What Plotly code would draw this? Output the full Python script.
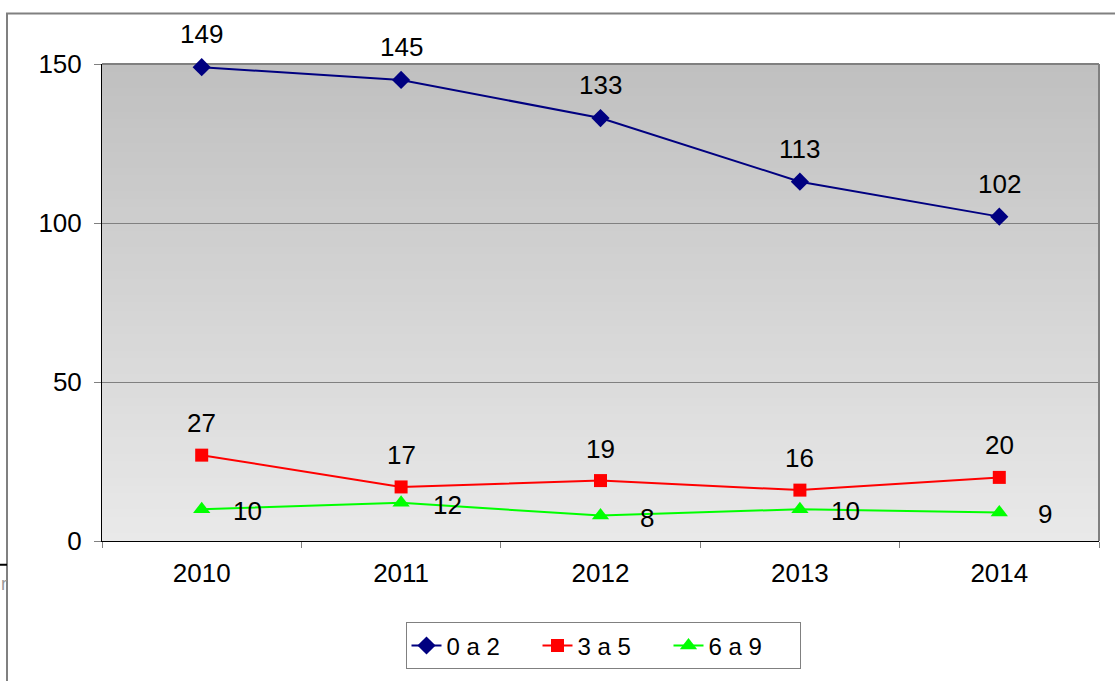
import plotly.graph_objects as go

years = ["2010", "2011", "2012", "2013", "2014"]
s_0a2 = [149, 145, 133, 113, 102]
s_3a5 = [27, 17, 19, 16, 20]
s_6a9 = [10, 12, 8, 10, 9]
y_ticks = [0, 50, 100, 150]

FONT = "Liberation Sans, Arial, sans-serif"
FS = 26

fig = go.Figure()

series = [
    ("0 a 2", s_0a2, "#000080", "diamond", 14),
    ("3 a 5", s_3a5, "#FF0000", "square", 13),
    ("6 a 9", s_6a9, "#00FF00", "triangle-up", 15),
]
for name, vals, col, sym, size in series:
    fig.add_trace(go.Scatter(
        x=years, y=vals, name=name, mode="lines+markers",
        line=dict(color=col, width=2),
        marker=dict(symbol=sym, size=size, color=col),
        cliponaxis=False,
    ))

annotations = []
for vals, xs, ys in [(s_0a2, 0, 33), (s_3a5, 0, 32), (s_6a9, 46, -2)]:
    for i, v in enumerate(vals):
        annotations.append(dict(
            x=i, y=v, text=str(v), showarrow=False, xref="x", yref="y",
            xshift=xs, yshift=ys, xanchor="center", yanchor="middle",
            font=dict(family=FONT, size=FS, color="black"),
        ))

# gradient background strips
shapes = []
N = 60
top = (192, 192, 192)
bot = (233, 233, 233)
for i in range(N):
    t = i / (N - 1)
    c = tuple(round(top[k] + (bot[k] - top[k]) * t) for k in range(3))
    shapes.append(dict(
        type="rect", xref="x domain", yref="y domain",
        x0=0, x1=1, y0=max(0, 1 - (i + 1.6) / N), y1=1 - i / N,
        fillcolor="rgb(%d,%d,%d)" % c, line=dict(width=0), layer="below",
    ))
# plot border top/right
shapes.append(dict(type="line", xref="x domain", yref="y domain", x0=0, x1=1, y0=1, y1=1,
                   line=dict(color="#808080", width=2), layer="below"))
shapes.append(dict(type="line", xref="x domain", yref="y domain", x0=1, x1=1, y0=0, y1=1,
                   line=dict(color="#808080", width=2), layer="below"))
# outer chart border
W, H = 1115, 681
L, R, T, B = 102, 16, 64, 135
pw, ph = W - L - R, H - T - B
def px(x):
    return (x - L) / pw
def py(y):
    return (H - B - y) / ph
shapes.append(dict(type="rect", xref="paper", yref="paper",
                   x0=px(7), x1=px(1125), y0=py(700), y1=py(13),
                   line=dict(color="#808080", width=2)))
shapes.append(dict(type="line", xref="paper", yref="paper",
                   x0=px(0), x1=px(7), y0=py(570), y1=py(570),
                   line=dict(color="black", width=2)))
annotations.append(dict(x=px(-1), y=py(589), xref="paper", yref="paper", text="r",
                        showarrow=False, xanchor="left", yanchor="middle",
                        font=dict(family=FONT, size=18, color="#999999")))

fig.update_layout(
    width=W, height=H,
    margin=dict(l=L, r=R, t=T, b=B, pad=0),
    paper_bgcolor="white",
    plot_bgcolor="rgba(0,0,0,0)",
    font=dict(family=FONT, size=FS, color="black"),
    shapes=shapes,
    annotations=annotations,
    showlegend=True,
    legend=dict(
        orientation="h", x=px(603), y=py(652), xanchor="center", yanchor="middle",
        bordercolor="#808080", borderwidth=1, bgcolor="white",
        font=dict(family=FONT, size=24), entrywidth=86, entrywidthmode="pixels",
        tracegroupgap=0,
    ),
    xaxis=dict(
        type="category", range=[-0.5, 4.5], showgrid=False, zeroline=False,
        showline=True, linecolor="black", linewidth=1,
        ticks="outside", tickson="boundaries", ticklen=6, tickcolor="#808080",
        tickfont=dict(family=FONT, size=FS), fixedrange=True, ticklabelstandoff=9,
    ),
    yaxis=dict(
        range=[0, 150], tickvals=y_ticks, showgrid=True, gridcolor="#808080", gridwidth=1,
        zeroline=False, showline=True, linecolor="black", linewidth=1,
        ticks="outside", ticklen=7, tickcolor="#808080",
        tickfont=dict(family=FONT, size=FS), fixedrange=True, ticklabelstandoff=7,
    ),
)

fig.write_html("out.html", config={"displayModeBar": False},
               post_script="document.body.style.margin='0';document.body.style.overflow='hidden';")
